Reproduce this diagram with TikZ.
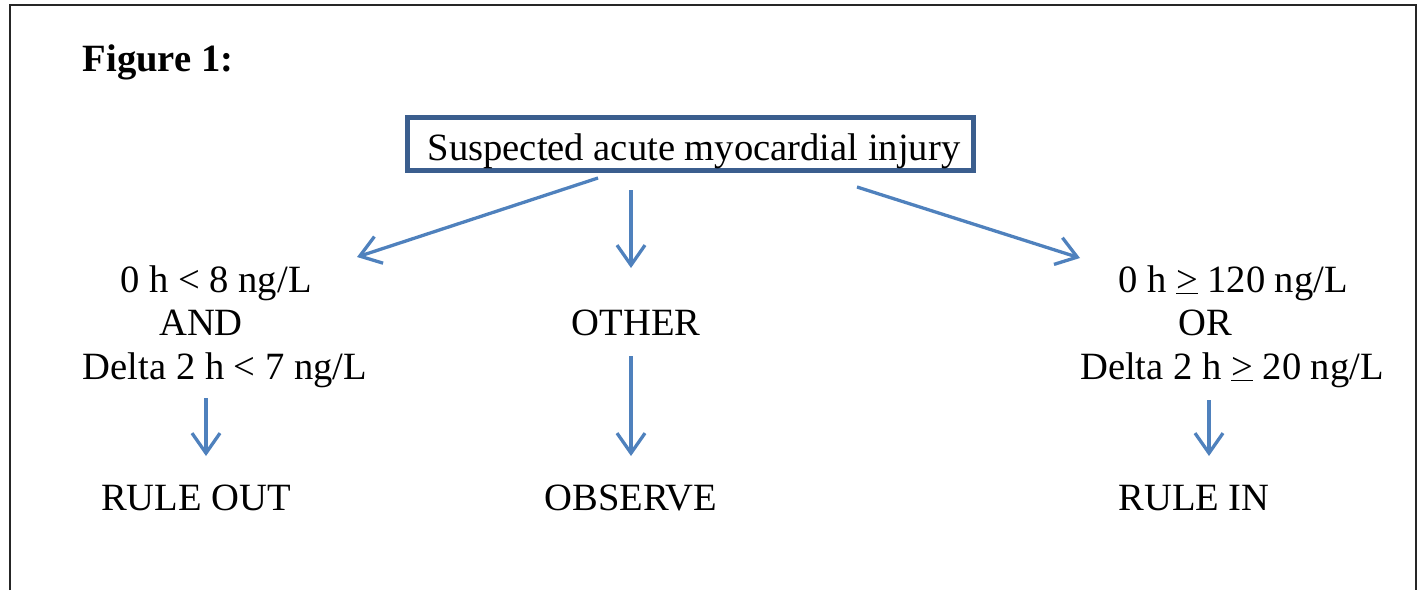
\documentclass[tikz,border=0pt]{standalone}
\usepackage{fontspec}
\setmainfont{Liberation Serif}
\usetikzlibrary{arrows.meta}
\definecolor{arrblue}{HTML}{4F81BD}
\definecolor{boxblue}{HTML}{3B5E8E}
\begin{document}
\begin{tikzpicture}[x=1pt,y=-1pt,
  txt/.style={anchor=base, inner sep=0pt, font=\fontsize{38.6}{44}\selectfont},
  figtxt/.style={anchor=base, inner sep=0pt, font=\fontsize{38.6}{44}\selectfont\bfseries},
  topbox/.style={draw=boxblue, line width=5pt, inner sep=0pt, minimum width=566pt, minimum height=53pt},
  arr/.style={draw=arrblue, line width=3.3pt, -{Straight Barb[length=20pt,width=28pt,line width=3.3pt]}},
  frame/.style={draw=black!85, line width=2.5pt}]
\useasboundingbox (0,0) rectangle (1425,590);
\draw[frame] (10,590) -- (10,5) -- (1416,5) -- (1416,590);

\node[figtxt] (fig) at (158,71) {Figure 1:};

\node[topbox] (top) at (690,144) {};
\node[txt] (toptxt) at (694,160) {Suspected acute myocardial injury};

\node[txt] (ra1) at (216,292) {0 h < 8 ng/L};
\node[txt] (ra2) at (201,335) {AND};
\node[txt] (ra3) at (225,379) {Delta 2 h < 7 ng/L};

\node[txt] (oth) at (636,335) {OTHER};

\node[txt] (rb1) at (1233,292) {0 h \underline{>} 120 ng/L};
\node[txt] (rb2) at (1205,335) {OR};
\node[txt] (rb3) at (1232,379) {Delta 2 h \underline{>} 20 ng/L};

\node[txt] (out) at (196,510) {RULE OUT};
\node[txt] (obs) at (631,510) {OBSERVE};
\node[txt] (rin) at (1194,510) {RULE IN};

\coordinate (a1s) at (598,178);  \coordinate (a1e) at (357,257);
\coordinate (a2s) at (631,190);  \coordinate (a2e) at (631,268);
\coordinate (a3s) at (857,187);  \coordinate (a3e) at (1080,258);
\coordinate (b1s) at (206,398);  \coordinate (b1e) at (206,456);
\coordinate (b2s) at (631,356);  \coordinate (b2e) at (631,456);
\coordinate (b3s) at (1209,400); \coordinate (b3e) at (1209,456);

\draw[arr] (a1s) -- (a1e);
\draw[arr] (a2s) -- (a2e);
\draw[arr] (a3s) -- (a3e);
\draw[arr] (b1s) -- (b1e);
\draw[arr] (b2s) -- (b2e);
\draw[arr] (b3s) -- (b3e);
\end{tikzpicture}
\end{document}
